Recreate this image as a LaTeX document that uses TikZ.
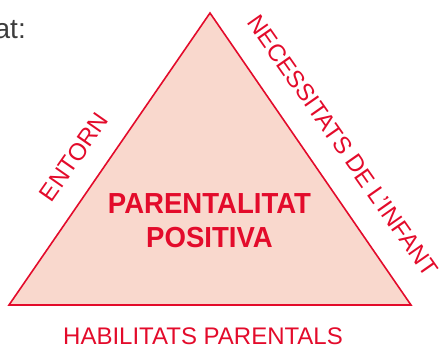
\documentclass[tikz,border=0pt]{standalone}
\usepackage{fontspec}
\setmainfont{Liberation Sans}
\newfontfamily\narrowfont[FakeStretch=0.95]{Liberation Sans}
\usepackage{xcolor}
\definecolor{ParRed}{HTML}{E30B2B}
\definecolor{ParFill}{HTML}{F9D8CD}
\definecolor{TextGray}{HTML}{3C3C3C}
\usetikzlibrary{calc}

\begin{document}
\begin{tikzpicture}[x=1pt, y=-1pt,
    side/.style={font=\fontsize{24}{24}\selectfont, text=ParRed, inner sep=0pt}]
    \useasboundingbox (0,0) rectangle (440,346);
    \coordinate (T) at (210,13);
    \coordinate (L) at (9,305);
    \coordinate (R) at (411,305);
    \draw[ParRed, fill=ParFill, line width=1.6pt] (L) -- (T) -- (R) -- cycle;
    \node[text=TextGray, font=\fontsize{28}{28}\selectfont, anchor=base east, inner sep=0pt] (prev) at (26,38) {at:}; % end of the sentence above
    \node[side, rotate=55] (entorn) at (74,157) {ENTORN};
    \node[side, rotate=-55] (necessitats) at (343,146) {NECESSITATS DE L'INFANT};
    \node[side, anchor=base] (habilitats) at (203,344) {HABILITATS PARENTALS};
    \node[text=ParRed, font=\narrowfont\bfseries\fontsize{29}{34}\selectfont, align=center, inner sep=0pt] (centre) at (209.5,220.5) {PARENTALITAT\\POSITIVA};
    \end{tikzpicture}
\end{document}
